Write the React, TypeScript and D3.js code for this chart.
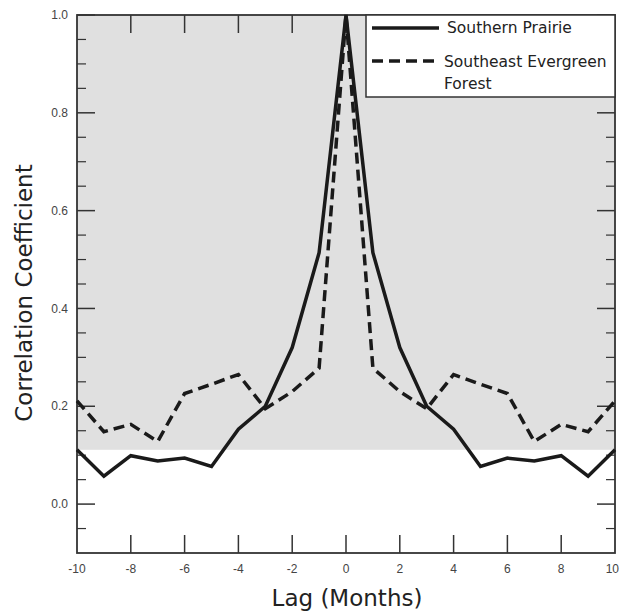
import React, { useEffect, useRef } from 'react';
import * as d3 from 'd3';

// lag in months
const lags = [-10, -9, -8, -7, -6, -5, -4, -3, -2, -1, 0, 1, 2, 3, 4, 5, 6, 7, 8, 9, 10];
const prairie = [0.111, 0.057, 0.099, 0.088, 0.094, 0.077, 0.153, 0.2, 0.32, 0.514, 1.0,
  0.514, 0.32, 0.2, 0.153, 0.077, 0.094, 0.088, 0.099, 0.057, 0.111];
const forest = [0.211, 0.148, 0.163, 0.128, 0.226, 0.245, 0.265, 0.195, 0.23, 0.278, 1.0,
  0.278, 0.23, 0.195, 0.265, 0.245, 0.226, 0.128, 0.163, 0.148, 0.211];
const threshold = 0.111;
const yMajor = [0.0, 0.2, 0.4, 0.6, 0.8, 1.0];
const yMinor = [-0.05, 0.05, 0.1, 0.15, 0.25, 0.3, 0.35, 0.45, 0.5, 0.55, 0.65, 0.7, 0.75, 0.85, 0.9, 0.95];
const xTicks = [-10, -8, -6, -4, -2, 0, 2, 4, 6, 8, 10];
const seriesNames = ['Southern Prairie', 'Southeast Evergreen', 'Forest'];

export default function App() {
  const ref = useRef<SVGSVGElement>(null);

  useEffect(() => {
    const svg = d3.select(ref.current);
    svg.selectAll('*').remove();

    const left = 77, right = 615, top = 15, bottom = 553;
    const x = d3.scaleLinear().domain([-10, 10]).range([left, right]);
    const y = d3.scaleLinear().domain([-0.1, 1.0]).range([bottom, top]);
    const axisColor = '#333';
    const tickFont = 'Liberation Sans, Arial, sans-serif';
    const lf = 'DejaVu Sans, Verdana, sans-serif';

    // significance shading
    svg.append('rect')
      .attr('x', left).attr('y', top)
      .attr('width', right - left).attr('height', y(threshold) - top)
      .attr('fill', '#e0e0e0');

    const g = svg.append('g');
    // y ticks left and right
    [[left, 1], [right, -1]].forEach(([px, dir]) => {
      yMajor.forEach(v => {
        g.append('line').attr('x1', px).attr('x2', px + dir * 18)
          .attr('y1', y(v)).attr('y2', y(v)).attr('stroke', axisColor).attr('stroke-width', 1.5);
      });
      yMinor.forEach(v => {
        g.append('line').attr('x1', px).attr('x2', px + dir * 9)
          .attr('y1', y(v)).attr('y2', y(v)).attr('stroke', axisColor).attr('stroke-width', 1.2);
      });
    });
    // x ticks bottom and top
    xTicks.slice(1, -1).forEach(v => {
      g.append('line').attr('x1', x(v)).attr('x2', x(v))
        .attr('y1', bottom).attr('y2', bottom - 18).attr('stroke', axisColor).attr('stroke-width', 1.5);
      g.append('line').attr('x1', x(v)).attr('x2', x(v))
        .attr('y1', top).attr('y2', top + 18).attr('stroke', axisColor).attr('stroke-width', 1.5);
    });

    // frame
    svg.append('rect')
      .attr('x', left).attr('y', top).attr('width', right - left).attr('height', bottom - top)
      .attr('fill', 'none').attr('stroke', axisColor).attr('stroke-width', 1.8);

    // tick labels
    yMajor.forEach(v => {
      svg.append('text').attr('x', 68).attr('y', y(v)).attr('dy', '0.35em')
        .attr('text-anchor', 'end').attr('font-family', tickFont)
        .attr('font-size', 12).attr('fill', '#444').text(d3.format('.1f')(v));
    });
    xTicks.forEach(v => {
      // last label would run past the page edge, keep it inside
      const last = v === xTicks[xTicks.length - 1];
      svg.append('text').attr('x', last ? 619 : x(v)).attr('y', 573)
        .attr('text-anchor', last ? 'end' : 'middle').attr('font-family', tickFont)
        .attr('font-size', 12).attr('fill', '#444').text(v);
    });

    // lines
    const line = d3.line<number>().x((d, i) => x(lags[i])).y(d => y(d));
    svg.append('path').attr('d', line(forest)).attr('fill', 'none')
      .attr('stroke', '#1a1a1a').attr('stroke-width', 3.5).attr('stroke-dasharray', '11,6');
    svg.append('path').attr('d', line(prairie)).attr('fill', 'none')
      .attr('stroke', '#1a1a1a').attr('stroke-width', 3.5);

    // legend
    const lg = svg.append('g');
    lg.append('rect').attr('x', 366).attr('y', top).attr('width', right - 366).attr('height', 82)
      .attr('fill', 'white').attr('stroke', axisColor).attr('stroke-width', 1.5);
    lg.append('line').attr('x1', 372).attr('x2', 439).attr('y1', 28).attr('y2', 28)
      .attr('stroke', '#1a1a1a').attr('stroke-width', 3.5);
    lg.append('line').attr('x1', 372).attr('x2', 439).attr('y1', 61).attr('y2', 61)
      .attr('stroke', '#1a1a1a').attr('stroke-width', 3.5).attr('stroke-dasharray', '11,6');
    lg.append('text').attr('x', 447).attr('y', 33).attr('font-family', lf).attr('font-size', 15.5)
      .attr('fill', '#222').text(seriesNames[0]);
    lg.append('text').attr('x', 444).attr('y', 67).attr('font-family', lf).attr('font-size', 15.5)
      .attr('fill', '#222').text(seriesNames[1]);
    lg.append('text').attr('x', 444).attr('y', 89).attr('font-family', lf).attr('font-size', 15.5)
      .attr('fill', '#222').text(seriesNames[2]);

    // axis titles
    svg.append('text').attr('x', 347).attr('y', 606).attr('text-anchor', 'middle')
      .attr('font-family', lf).attr('font-size', 23).attr('fill', '#222').text('Lag (Months)');
    svg.append('text').attr('transform', 'translate(32,293) rotate(-90)').attr('text-anchor', 'middle')
      .attr('font-family', lf).attr('font-size', 23).attr('fill', '#222').text('Correlation Coefficient');
  }, []);

  return (
    <div style={{ position: 'absolute', left: 0, top: 0 }}>
      <svg ref={ref} width={620} height={611} style={{ display: 'block', background: 'white' }} />
    </div>
  );
}
